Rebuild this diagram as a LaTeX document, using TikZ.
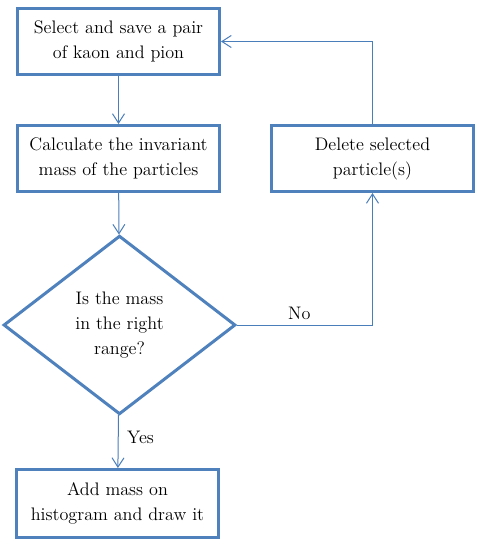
\documentclass[tikz,border=0pt]{standalone}
\usetikzlibrary{shapes.geometric,arrows.meta,positioning}
\definecolor{boxblue}{HTML}{4F81BD}
\definecolor{lineblue}{HTML}{4A7EBB}
\tikzset{
  stepbox/.style={draw=boxblue, line width=2.25pt, minimum width=151.5pt,
    minimum height=49.5pt, align=center, inner sep=0pt},
  decision/.style={diamond, draw=boxblue, line width=2.25pt, minimum width=174pt,
    minimum height=134pt, align=center, inner sep=0pt},
  link/.style={draw=lineblue, line width=0.75pt, -{Straight Barb[length=7pt,width=9pt]}},
}
\begin{document}
\begin{tikzpicture}[x=0.75pt,y=-0.75pt, font=\fontsize{13.6}{18.75}\selectfont]
    \useasboundingbox (0,0) rectangle (480,544);
    \node[stepbox] (select) at (118.5,41.5) {Select and save a pair\\of kaon and pion};
    \node[stepbox] (calc) at (118.5,158.5) {Calculate the invariant\\mass of the particles};
    \node[stepbox] (delete) at (372.5,158.5) {Delete selected\\particle(s)};
    \node[decision] (range) at (119.5,325) {Is the mass\\in the right\\range?};
    \node[stepbox, minimum height=51pt] (hist) at (117.5,503.5) {Add mass on\\histogram and draw it};
    \draw[link] (select) -- (calc);
    \draw[link] (calc) -- (range);
    \draw[link] (range) -- (hist) node[pos=0.42,right=3pt]{Yes};
    \draw[link] (range.east) -| (delete) node[pos=0.23,above]{No};
    \draw[link] (delete) |- (select);
\end{tikzpicture}
\end{document}
